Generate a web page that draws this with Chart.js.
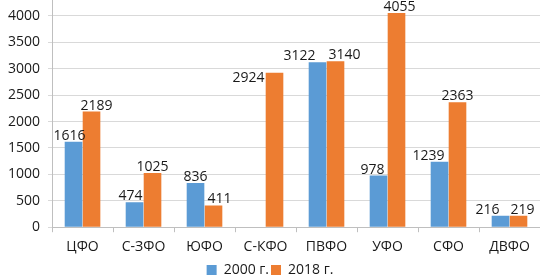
<!DOCTYPE html>
<html><head><meta charset="utf-8">
<script src="https://cdn.jsdelivr.net/npm/chart.js@4"></script>
<style>html,body{margin:0;padding:0;background:#fff}#w{width:540px;height:276px}</style>
</head><body><div id="w"><canvas id="c"></canvas></div>
<script>
const categories = ["ЦФО","С-ЗФО","ЮФО","С-КФО","ПВФО","УФО","СФО","ДВФО"];
const series2000 = [1616, 474, 836, null, 3122, 978, 1239, 216];
const series2018 = [2189, 1025, 411, 2924, 3140, 4055, 2363, 219];
const seriesNames = ["2000 г.", "2018 г."];
const yTicks = [0, 500, 1000, 1500, 2000, 2500, 3000, 3500, 4000];

const labelPlugin = {
  id: 'vals',
  afterDatasetsDraw(chart, args, opts) {
    const ctx = chart.ctx;
    ctx.save();
    ctx.font = '14px "Open Sans", sans-serif';
    ctx.fillStyle = '#1a1a1a';
    ctx.textAlign = 'center';
    ctx.textBaseline = 'alphabetic';
    chart.data.datasets.forEach((ds, i) => {
      chart.getDatasetMeta(i).data.forEach((el, j) => {
        const v = ds.data[j];
        if (v == null) return;
        const sh = (opts.shift[i] && opts.shift[i][j]) || [0, 0];
        ctx.fillText(String(v), el.x + sh[0], el.y - 2 + sh[1]);
      });
    });
    ctx.restore();
  }
};

new Chart(document.getElementById('c'), {
  type: 'bar',
  data: {
    labels: categories,
    datasets: [
      { label: seriesNames[0], data: series2000, backgroundColor: '#5b9bd5', categoryPercentage: 0.59, barPercentage: 0.98 },
      { label: seriesNames[1], data: series2018, backgroundColor: '#ed7d31', categoryPercentage: 0.59, barPercentage: 0.98 }
    ]
  },
  options: {
    responsive: true, maintainAspectRatio: false, animation: false,
    layout: { padding: { left: 0, right: 0, top: 0, bottom: -11 } },
    plugins: {
      legend: { position: 'bottom', labels: { boxWidth: 10, boxHeight: 10, padding: 2, color: '#1a1a1a', font: { family: '"Open Sans", sans-serif', size: 14 } } },
      tooltip: { enabled: false },
      vals: {
        shift: [
          [[-4,0],[-4,0],[0,0],[0,0],[-18,0],[-6,0],[-11,0],[-13,0]],
          [[5,0],[0,0],[6,0],[-26,11],[9,0],[3,0],[0,0],[4,0]]
        ]
      }
    },
    scales: {
      x: {
        grid: { drawOnChartArea: false, color: '#bfbfbf', tickLength: 5 },
        border: { color: '#bfbfbf' },
        ticks: { color: '#1a1a1a', padding: 6, font: { family: '"Open Sans", sans-serif', size: 14 } }
      },
      y: {
        min: 0, max: 4300,
        afterBuildTicks(axis) { axis.ticks = yTicks.map(v => ({ value: v })); },
        afterFit(axis) { axis.paddingTop = 0; axis.paddingBottom = 0; },
        grid: { color: '#d9d9d9', tickLength: 4 },
        border: { color: '#bfbfbf' },
        ticks: { color: '#1a1a1a', padding: 8, callback: v => String(v), font: { family: '"Open Sans", sans-serif', size: 14 } }
      }
    }
  },
  plugins: [labelPlugin]
});
</script>
</body></html>
